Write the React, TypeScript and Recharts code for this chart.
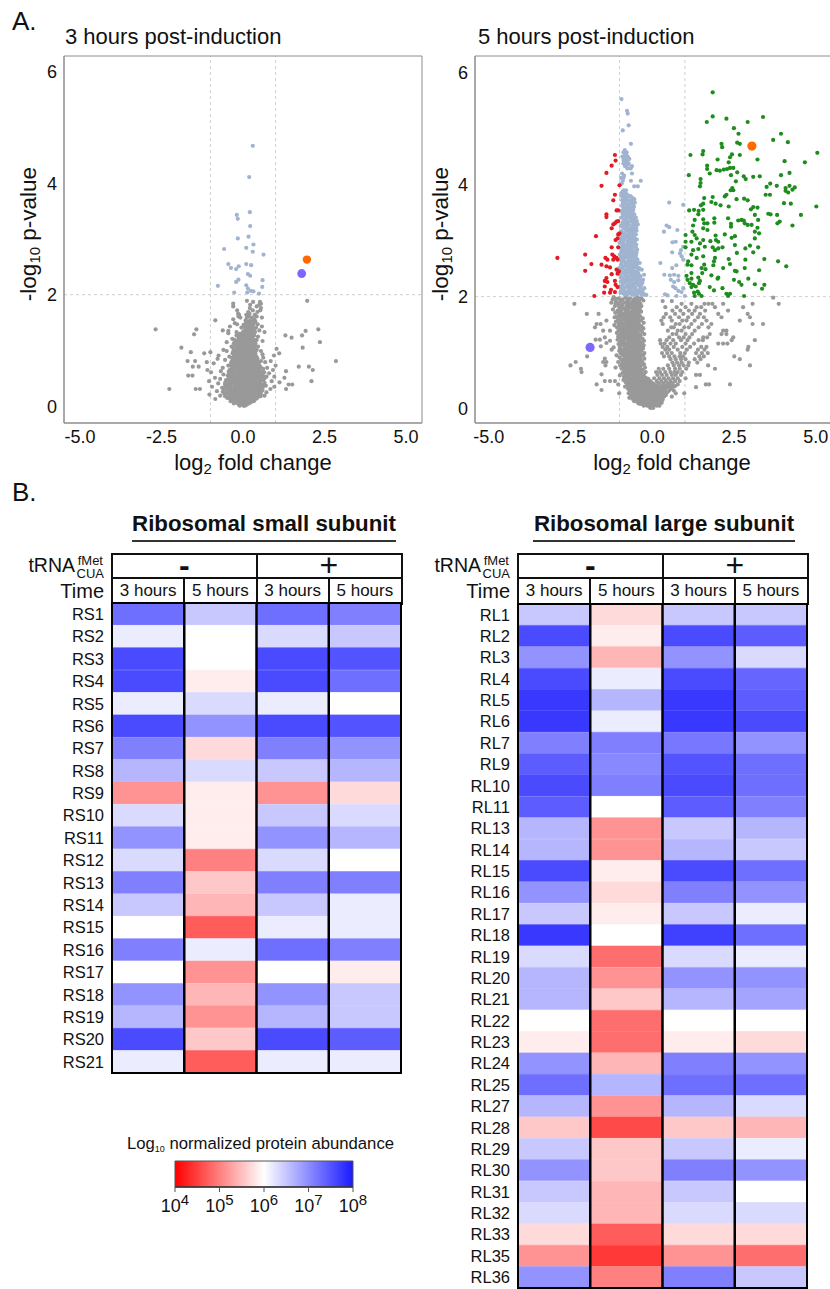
import { BarChart, Bar, Cell, ReferenceLine, Scatter, ScatterChart, XAxis, YAxis } from "recharts";

// rows are [y, x, x, x ...]
type Row = number[];

const gray3hRows: Row[] = [
  [1.89, 1.97, .12], [1.87, .31, .52], [1.84, -.3, .55], [1.82, .22, .5], [1.79, -.3, .42], [1.76, .21, .55], [1.72, -.18, .3, .53], [1.69, .16, .44],
  [1.66, -.15, .2], [1.64, -.12, .1, .36], [1.61, -.14, .18, .42], [1.59, -.08, .12, .28, .58], [1.56, -.3, .35], [1.54, -.85, .08, .22], [1.52, .14, .38, .3],
  [1.49, -.25, .19, .33], [1.47, -.18, .07, .27, .45], [1.45, .13, .3], [1.43, -.4, .06, .24, .58], [1.41, -.05, .17, .4], [1.38, -2.68, -1.43, 2.31, .11, .34],
  [1.36, -.62, .05, .21, .5], [1.35, 1.92, -.45, .28, .15], [1.33, .1, .37, -.2, .66], [1.31, -.45, -.02, .24], [1.29, -1.5, .06, .18, .3], [1.27, 1.81, 1.3, -.2, .12, .34],
  [1.25, -.14, .05, .28, .46], [1.23, 1.49, .16, .1, .22], [1.21, -.33, -.08, .27], [1.19, -.26, .02, .2, .42], [1.17, -.2, .14, .33, .6], [1.15, 2.36, .08, -.5, .24],
  [1.13, -.28, -.1, .18, .38], [1.11, -.16, .05, .3], [1.09, -.22, .11, .36], [1.07, -.35, -.02, .22, .46], [1.05, -1.89, 1.83, -.17, .16], [1.03, -.29, -.04, .29, 1.03],
  [1.01, -.6, .1, .21, .42], [.99, -.5, -.23, .03, .34, .55], [.97, -1.6, -1, .14, -.1, .27], [.95, -1.19, -.32, .08, .38, 1.11], [.93, -.26, -.13, .2, .6], [.91, -.75, -.06, .33, .95],
  [.89, -.42, .01, .24, .41], [.87, -.33, -.2, .13, .62], [.85, -.78, -.07, .3], [.83, -.55, -.27, .17, .38], [.81, 2.85, -1.7, -1.47, -.14, .04, .55, .85], [.79, -1.11, -.36, .1, .26, .68],
  [.77, -.9, -.21, -.03, .4], [.75, -.29, .19, .32], [.73, -.45, -.1, .06, 1], [.71, 1.71, 2.02, -1.54, -1.36, -.22, .25, .46], [.69, -.62, -.34, .12, .37, .74],
  [.67, -.15, .01, .29, .62], [.65, 2.14, -1.09, -.41, -.27, .08, .18, .92], [.63, -.68, -.06, .23, .5, 1.32], [.61, -.98, -.38, .15, .36, .65], [.59, -.31, -.2, .02, .45, .8],
  [.57, -.6, -.13, .09, .27], [.55, -1.68, -1.55, -.47, .2, .39, .55], [.53, -.24, -.05, .33, .72, .96], [.51, 1.27, -.86, -.35, .12, .5], [.49, -.7, -.17, .04, .25, .43],
  [.47, -.52, -.28, .19, .36, .62], [.45, 2.1, -1.04, -.1, .07, .3, .88], [.43, -.42, -.2, .14, .47, 1.12], [.41, -.76, -.33, -.02, .24, .4], [.39, 1.51, 1.4, -.55, -.13, .1, .56],
  [.37, -.25, .18, .34, .7], [.35, -.95, -.45, -.07, .03, .44, .96], [.33, -.64, -.31, .13, .28, .52], [.31, -2.26, -1.45, -1.32, 1.32, -.18, .38, .84], [.29, -.38, -.1, .07, .22, .6],
  [.27, -.8, -.24, .01, .33, .47], [.25, -.5, -.15, .15, .72], [.23, -.58, -.31, -.04, .26, .42], [.21, -1.03, -.2, .09, .36, .54], [.19, -.7, -.41, .03, .19, .66],
  [.17, -.27, -.11, .3, .47], [.15, -.48, -.06, .12, .24], [.13, -.85, -.34, -.17, .38], [.11, -.24, .04, .2, .29], [.09, -.38, -.1, .14, .33], [.07, -.2, -.02, .24],
  [.05, -.28, .08, .18], [.03, -.13, -.05, .12], [.01, -.1, .02, .06],
];
// the solid middle of the cloud
const gray3hCoreRows: Row[] = [
  [1.5, .1, .23], [1.46, .02, .16, .25], [1.4, .08, .22, .28], [1.34, .01, .14, .2, .27], [1.3, -.1, .1, .22, .26], [1.26, -.04, .08, .17, .25], [1.22, -.13, 0, .13, .19, .3],
  [1.18, -.08, .06, .11, .25, .36], [1.14, -.14, -.02, .12, .2, .3], [1.1, -.26, -.1, .02, .09, .18, .25], [1.06, -.12, -.06, .08, .14, .27, .34], [1.02, -.2, -.1, .05, .14, .24, .34],
  [.98, -.3, -.16, -.03, .06, .17, .23, .37], [.94, -.2, -.06, .03, .13, .26, .34], [.9, -.28, -.15, -.02, .09, .18, .28, .37], [.86, -.25, -.12, .01, .08, .21, .34, .44],
  [.82, -.33, -.2, -.02, .09, .22, .29, .44], [.78, -.3, -.14, -.07, .04, .15, .33, .46], [.74, -.38, -.18, -.02, .13, .23, .36, .5], [.7, -.3, -.12, -.02, .06, .18, .3, .42, .54],
  [.66, -.36, -.21, -.08, .04, .14, .25, .36, .48], [.62, -.44, -.28, -.13, .03, .11, .19, .3, .42, .55], [.58, -.42, -.26, -.08, .06, .16, .24, .33, .48, .6],
  [.54, -.38, -.3, -.14, .01, .13, .25, .31, .44, .62], [.5, -.44, -.25, -.1, -.02, .08, .17, .3, .38, .54, .66], [.46, -.45, -.34, -.15, -.05, .03, .13, .25, .42, .55],
  [.42, -.55, -.36, -.26, -.08, .05, .2, .31, .38, .52, .66], [.38, -.48, -.38, -.2, -.03, .07, .16, .27, .42, .49, .62], [.34, -.55, -.41, -.24, -.12, -.02, .09, .2, .35, .48, .6],
  [.3, -.58, -.46, -.27, -.14, -.03, .04, .15, .27, .43, .55], [.26, -.62, -.42, -.33, -.19, -.06, .06, .2, .29, .4, .56], [.22, -.5, -.38, -.24, -.1, 0, .13, .22, .31, .48],
  [.18, -.55, -.34, -.2, -.07, .07, .14, .26, .36, .54], [.14, -.4, -.26, -.12, -.02, .06, .18, .3, .42], [.1, -.3, -.18, -.07, .08, .16, .25], [.06, -.16, -.1, .03, .13],
];

const blue3h = [
  [.3, 4.67], [.19, 4.11], [.21, 3.48], [-.19, 3.43], [-.16, 3.36], [.22, 3.23], [-.16, 3.01], [.17, 3.04], [.32, 2.9],
  [.1, 2.84], [-.58, 2.82], [.3, 2.77], [.63, 2.72], [-.45, 2.55], [-.37, 2.48], [-.21, 2.46], [-.13, 2.51], [.1, 2.55],
  [.25, 2.53], [.15, 2.37], [.22, 2.34], [.6, 2.26], [-.14, 2.27], [-.21, 2.23], [.59, 2.14], [-.77, 2.16], [.1, 2.17],
  [.15, 2.11], [.13, 2.04], [.24, 2.07], [.32, 2.06], [.49, 2.02], [-.27, 2.04],
];
const orange3h = [[1.96, 2.63]];
const purple3h = [[1.8, 2.38]];

const gray5hLeftRows: Row[] = [
  [1.99, -1.18, -.82, -.46], [1.97, -1.02, -.68, -.33], [1.95, -1.21, -.9, -.56], [1.93, -.75, -.4, -.27], [1.91, -1.11, -.96, -.6], [1.89, -1.25, -.84, -.5],
  [1.87, -2.38, -1.04, -.71, -.36], [1.85, -.92, -.58, -.44], [1.83, -1.14, -.79, -.33], [1.81, -1, -.65, -.47], [1.79, -.87, -.52], [1.77, -1.2, -.74, -.38],
  [1.75, -1.06, -.61, -.44], [1.73, -.94, -.8, -.34], [1.71, -1.13, -.68, -.53], [1.69, -2, -1.64, -.9, -.42], [1.67, -1.01, -.76, -.57], [1.65, -.84, -.63, -.37],
  [1.63, -1.15, -.96, -.5], [1.61, -.72, -.43, -.29], [1.59, -1.05, -.86, -.59], [1.57, -1.4, -.78, -.48, -.35], [1.55, -1.11, -.94, -.66], [1.53, -.83, -.55, -.26],
  [1.51, -1.7, -1.58, -1.03, -.72, -.41], [1.49, -1.16, -.91, -.61], [1.47, -.8, -.5, -.33], [1.45, -1.75, -1.08, -.69, -.44], [1.43, -.97, -.58, -.27], [1.41, -.87, -.76, -.38],
  [1.39, -1.5, -1.29, -1.03, -.64, -.5], [1.37, -.92, -.72, -.31], [1.35, -1.08, -.83, -.56], [1.33, -.98, -.67, -.43, -.24], [1.31, -.77, -.52, -.36], [1.29, -1.04, -.88, -.62],
  [1.27, -1.45, -.95, -.7, -.46], [1.25, -.81, -.58, -.3], [1.23, -1.73, -1.6, -1.06, -.9, -.41], [1.21, -1.29, -.74, -.54, -.25], [1.19, -.98, -.65, -.37], [1.17, -1.4, -.85, -.49, -.3],
  [1.15, -1.03, -.78, -.6], [1.13, -.93, -.44, -.26], [1.11, -1.57, -.7, -.55, -.35], [1.09, -1.18, -.99, -.83], [1.07, -.64, -.48, -.28], [1.05, -1.24, -.9, -.76, -.4],
  [1.03, -1.01, -.58, -.33], [1.01, -.86, -.69, -.46], [.99, -.97, -.53, -.24], [.97, -.8, -.63, -.38], [.95, -1.09, -.9, -.48, -.28], [.93, -1.99, -.73, -.57], [.91, -1, -.84, -.41],
  [.89, -1.45, -.66, -.52, -.24], [.87, -.94, -.77, -.35], [.85, -.86, -.6, -.46], [.83, -2.34, -1.5, -1.4, -1.04, -.7, -.3], [.81, -.92, -.54, -.4], [.79, -.8, -.65, -.25],
  [.77, -2.5, -1.43, -.98, -.48, -.34], [.75, -.87, -.72, -.58], [.73, -1.12, -.61, -.44, -.22], [.71, -2.18, -.93, -.78, -.36], [.69, -.68, -.51, -.29], [.67, -.85, -.57, -.41],
  [.65, -2.16, -.74, -.47, -.2], [.63, -.91, -.62, -.33], [.61, -1.55, -.8, -.53, -.26], [.59, -.99, -.69, -.42], [.57, -.86, -.58, -.35], [.55, -.76, -.48, -.2], [.53, -.65, -.39, -.12],
  [.51, -.88, -.55, -.28], [.49, -1.45, -1.29, -1.14, -.72, -.44, -.05], [.47, -.81, -.61, -.34, -.16], [.45, -.5, -.24, -.02], [.43, -1.7, -1.04, -.68, -.39, -.1], [.41, -.77, -.57, -.3],
  [.39, -.83, -.46, -.19, .02], [.37, -.64, -.36, -.07], [.35, -.74, -.52, -.26], [.33, -1.55, -.6, -.42, -.14, .04], [.31, -.69, -.33, -.02], [.29, -.49, -.22, -.09], [.27, -1.01, -.72, -.38, .03],
  [.25, -.57, -.28, -.12], [.23, -.65, -.44, -.18, .01], [.21, -.52, -.34, -.07], [.19, -.7, -.24, -.13], [.17, -.6, -.41, -.03], [.15, -.49, -.3, -.19], [.13, -.55, -.09, .02],
  [.11, -.38, -.25, -.14], [.09, -.42, -.31, -.05], [.07, -.2, -.1, .01], [.05, -.26, -.15, -.03], [.03, -.08, .02], [.01, -.05, .03],
];
// the solid band of the left arm
const gray5hCoreRows: Row[] = [
  [1.96, -1.1, -.77, -.5, -.37], [1.92, -.98, -.72, -.53, -.42], [1.88, -1.12, -.76, -.62, -.4], [1.84, -1.02, -.7, -.52, -.38], [1.8, -.93, -.73, -.58, -.41], [1.76, -1, -.82, -.55, -.44],
  [1.72, -1.03, -.72, -.6, -.45], [1.68, -.96, -.82, -.63, -.48], [1.64, -1.08, -.88, -.7, -.54], [1.6, -.98, -.8, -.62, -.47], [1.56, -1, -.73, -.58, -.42], [1.52, -.92, -.78, -.63, -.46],
  [1.48, -1, -.7, -.55, -.4], [1.44, -.88, -.76, -.62, -.48], [1.4, -1, -.82, -.66, -.54, -.42], [1.36, -.85, -.68, -.6, -.45], [1.32, -.92, -.74, -.58, -.48], [1.28, -1.01, -.8, -.64, -.52, -.38],
  [1.24, -.95, -.7, -.62, -.48], [1.2, -.87, -.66, -.5, -.42], [1.16, -.92, -.72, -.55, -.44], [1.12, -.86, -.62, -.48, -.38], [1.08, -.75, -.6, -.4], [1.04, -.96, -.82, -.64, -.5],
  [1, -.92, -.74, -.56, -.42], [.96, -.88, -.7, -.52, -.34], [.92, -.82, -.64, -.5, -.36], [.88, -.85, -.72, -.58, -.42], [.84, -.78, -.63, -.52, -.36], [.8, -.85, -.72, -.58, -.44],
  [.76, -.82, -.66, -.54, -.42], [.72, -.88, -.7, -.52, -.38], [.68, -.8, -.62, -.46, -.32], [.64, -.82, -.68, -.55, -.42], [.6, -.74, -.6, -.47, -.32], [.56, -.7, -.52, -.38, -.26],
  [.52, -.8, -.6, -.46, -.32, -.2], [.48, -.66, -.5, -.38, -.24, -.1], [.44, -.74, -.58, -.45, -.3, -.16], [.4, -.68, -.5, -.37, -.24, -.08], [.36, -.58, -.46, -.3, -.15, -.02], [.32, -.64, -.5, -.37, -.25, -.08],
  [.28, -.6, -.46, -.33, -.2, -.05], [.24, -.52, -.37, -.24, -.08], [.2, -.6, -.43, -.29, -.16, -.01], [.16, -.53, -.36, -.22, -.08, .05], [.12, -.46, -.3, -.18, -.04], [.08, -.36, -.24, -.13, .04],
];
const gray5hRightRows: Row[] = [
  [1.98, 3.7], [1.92, .32, .6], [1.87, 3.87, 3.07, .9, 1.2, 1.6, 1.72, 1.84, 2.17], [1.81, .4, .75, 1.02, 1.36, 1.5, 1.92, 2.78],
  [1.75, .62, .86, 1.12, 1.3, 1.62, 2.32], [1.69, .42, .7, .95, 1.22, 1.46, 2.02, 2.92], [1.63, .35, .55, .82, 1.1, 1.4, 1.58, 2.12, 2.99],
  [1.57, .28, .6, .92, 1.05, 1.3, 1.66, 2.68], [1.51, .32, .72, .84, 1.2, 1.52, 1.81, 3.07, 3.39], [1.45, .58, .66, .98, 1.12, 1.42, 1.72],
  [1.39, .48, .78, .9, 1.3, 2.17, 2.27], [1.33, .62, .74, 1.02, 1.22, 1.76, 2.27, 2.12], [1.27, .52, .82, .96, 1.14, 1.56, 1.68, 2.48],
  [1.22, .24, .44, .64, .88, 1.08, 1.42, 1.55, 2.43, 3.14], [1.16, .26, .38, .56, .72, 1.02, 1.28, 2.02, 2.17, 2.3], [1.1, .32, .46, .66, .92, 1.16, 1.5, 1.66, 2.94],
  [1.05, .4, .52, .78, 1.06, 1.4, 1.6, 2.92], [.99, .3, .46, .6, .86, 1, 1.34, 1.52, 1.7], [.93, .36, .52, .68, .84, .94, 1.44, 1.58, 2.51],
  [.88, .56, .72, .88, 1.02, 1.3, 1.48, 2.68], [.82, .62, .76, .9, 1.12, 1.38], [.77, .48, .66, .82, .96, 1.1, 1.71, 2.99],
  [.71, .2, .34, .52, .7, .84, 1.04, 1.92], [.65, .12, .24, .4, .56, .68, .78, .92], [.6, .16, .3, .44, .6, .72, .88, 1.34, 1.46],
  [.54, .06, .22, .36, .5, .64, .78, 1.02], [.49, .14, .28, .42, .56, .7, .84], [.45, .02, .2, .34, .5, .62], [.43, .06, .18, .46, .6, .78, 1.64, 1.74, 2.38],
  [.4, .1, .28, .42, .54, .7], [.38, .08, .2, .34, .48, .62, 1.34], [.35, .14, .26, .4, .58], [.32, .1, .18, .28, .38, .52, .66], [.29, .05, .22, .33, .46],
  [.27, .14, .24, .34, .72, .98], [.24, .06, .18, .3, .42], [.21, .1, .2, .36, .6], [.18, .03, .14, .26], [.16, .08, .17, .32], [.13, .05, .22, .28],
  [.1, .02, .11, .2, .29], [.07, .06, .15], [.05, .14, .22],
];

const blue5hRows: Row[] = [
  [5.53, -.94], [5.32, -.77], [5.27, -.75], [5.06, -.72], [4.97, -.9], [4.73, -.65],
  [4.62, -.84], [4.58, -.78, -.88], [4.54, -.8], [4.5, -.91, -.75], [4.46, -.84, -.7], [4.42, -.8], [4.38, -.88, -.72], [4.33, -.83, -.62], [4.29, -.76, -.66],
  [4.2, -.92, -.62], [4.16, -.86], [4.12, -.95, -.88], [4.07, -.9, -.65, -.35], [3.97, -.55, -.44], [3.86, -.93, -.84],
  [3.83, -.78, -.88], [3.8, -.95, -.7], [3.77, -.84, -.62], [3.74, -.9, -.76, -.55], [3.71, -.82, -.67], [3.68, -.87, -.6, -.53], [3.65, -.75, -.69], [3.62, -.92, -.57], [3.59, -.8, -.64],
  [3.56, -.88, -.72], [3.53, -.94, -.79, -.6], [3.5, -.84, -.68], [3.47, -.9, -.75, -.55], [3.44, -.65, -.81], [3.41, -.94, -.71, -.5], [3.38, -.86, -.59], [3.35, -.78, -.66, -.47],
  [3.32, -.91, -.54], [3.29, -.83, -.72, -.44], [3.26, -.96, -.62, -.52], [3.23, -.88, -.75, -.49], [3.2, -.8, -.58], [3.17, -.93, -.68, -.54], [3.14, -.85, -.6], [3.11, -.97, -.76, -.5],
  [3.08, -.89, -.65, -.56], [3.05, -.81, -.71], [3.02, -.95, -.6, -.47], [2.99, -.87, -.75, -.53], [2.96, -1, -.66, -.58], [2.93, -.79, -.92, -.49], [2.9, -.85, -.7, -.55], [2.87, -.97, -.62],
  [2.84, -.77, -.88, -.46], [2.81, -.66, -.53, -.94], [2.78, -.83, -.72], [2.75, -.99, -.6, -.49], [2.72, -.9, -.77, -.55], [2.69, -.68, -.84], [2.66, -.96, -.62, -.45], [2.63, -.74, -.87, -.52],
  [2.6, -.81, -.58, -.38], [2.57, -.95, -.68, -.47], [2.54, -.88, -.76, -.55], [2.51, -1.01, -.62, -.4], [2.48, -.83, -.7, -.32], [2.45, -.93, -.52], [2.42, -.77, -.64, -.43], [2.39, -.98, -.86, -.25],
  [2.36, -.71, -.56, -.36], [2.33, -.91, -.8, -.47], [2.3, -.66, -.6, -.28], [2.27, -.96, -.75, -.41], [2.24, -.85, -.53], [2.21, -.69, -.44, -.33], [2.18, -1, -.78, -.58], [2.15, -.89, -.63, -.24],
  [2.12, -.95, -.72, -.5], [2.09, -.82, -.6, -.38], [2.06, -.9, -.68, -.44, -.28], [2.03, -.76, -.55, -.33, -.18],
];
// the solid part of the left column
const blue5hCoreRows: Row[] = [
  [4.52, -.84, -.8], [4.44, -.88, -.76], [4.36, -.83, -.74], [4.02, -.93], [3.9, -.88, -.8], [3.79, -.86, -.76, -.66], [3.72, -.92, -.73, -.6], [3.66, -.9, -.8, -.63], [3.6, -.85, -.72, -.56],
  [3.55, -.78, -.66, -.58], [3.51, -.92, -.73, -.62], [3.45, -.88, -.74, -.58], [3.39, -.8, -.65, -.55], [3.33, -.87, -.74, -.6], [3.28, -.91, -.78, -.56], [3.22, -.83, -.66, -.54],
  [3.18, -.75, -.62, -.48], [3.12, -.9, -.7, -.56], [3.07, -.95, -.78, -.6], [3.03, -.86, -.68, -.52], [2.97, -.93, -.7, -.62], [2.92, -.84, -.66, -.53], [2.88, -.9, -.76, -.5],
  [2.83, -.82, -.7, -.6], [2.79, -.92, -.6, -.48], [2.74, -.84, -.7, -.56], [2.7, -.95, -.76, -.62, -.5], [2.65, -.88, -.7, -.55], [2.61, -.93, -.76, -.62, -.45], [2.56, -.82, -.6, -.5],
  [2.52, -.9, -.72, -.55, -.46], [2.47, -.96, -.78, -.6, -.44], [2.43, -.88, -.7, -.54], [2.38, -.8, -.62, -.5, -.4], [2.34, -.96, -.72, -.58, -.42], [2.29, -.85, -.7, -.52, -.35],
  [2.25, -.9, -.64, -.47, -.3], [2.2, -.92, -.75, -.58, -.4], [2.16, -.83, -.7, -.52, -.36], [2.11, -.88, -.63, -.42, -.3], [2.07, -.97, -.76, -.55, -.36], [2.04, -.85, -.62, -.47, -.25],
];
const blue5hRight = [
  [.52, 3.68], [.95, 3.64], [.44, 3.27], [.52, 3.24], [.36, 3.16], [.77, 3.19], [.62, 2.97], [.72, 2.98], [.95, 2.89], [.88, 2.83],
  [.85, 2.77], [.61, 2.79], [.9, 2.72], [.95, 2.66], [.25, 2.6], [.74, 2.56], [.61, 2.51], [.37, 2.39], [.54, 2.38], [.67, 2.39],
  [.8, 2.37], [.57, 2.3], [.67, 2.26], [.8, 2.29], [.64, 2.18], [.71, 2.15], [.8, 2.1], [.9, 2.08], [.39, 2.04], [.47, 2.02],
  [.74, 2.01], [1, 2.01], [.95, 2.15],
];
const green5h = [
  [1.85, 5.65], [1.85, 5.22], [1.67, 5.12], [2.27, 5.18], [2.92, 5.12], [3.39, 5.21], [2.5, 5.01], [2.64, 4.91], [3.94, 4.91], [3.7, 4.8],
  [4.15, 4.76], [2.12, 4.73], [2.14, 4.67], [2.6, 4.75], [2.68, 4.73], [5.05, 4.57], [1.56, 4.6], [1.54, 4.54], [1.17, 4.53], [2.44, 4.54],
  [2.38, 4.49], [2.68, 4.53], [2, 4.45], [2.34, 4.4], [3.22, 4.45], [4.05, 4.42], [4.67, 4.4], [1.68, 4.34], [1.68, 4.28], [1.97, 4.26],
  [2.07, 4.25], [2.19, 4.27], [2.29, 4.28], [2.38, 4.3], [2.48, 4.3], [1.76, 4.2], [2.6, 4.22], [1.12, 4.17], [2.41, 4.17], [2.8, 4.15],
  [2.86, 4.1], [3.09, 4.14], [3.29, 4.15], [3.94, 4.17], [4.2, 4.21], [1.48, 4.1], [1.48, 4.03], [2.56, 4.06], [1.46, 3.97], [3.61, 4.02],
  [3.5, 3.96], [3.81, 3.98], [4.2, 3.98], [4.08, 3.94], [4.36, 3.95], [4.29, 3.91], [4.08, 3.89], [2.45, 3.94], [2.4, 3.9], [2.48, 3.9],
  [2.27, 3.82], [2.22, 3.79], [3.47, 3.82], [3.6, 3.82], [4.16, 3.86], [1.85, 3.78], [1.59, 3.76], [2.58, 3.74], [2.81, 3.75], [2.92, 3.72],
  [1.81, 3.69], [1.94, 3.66], [1.56, 3.66], [1.49, 3.63], [2.09, 3.63], [2.34, 3.61], [4.03, 3.67], [4.24, 3.66], [5.02, 3.61], [3.09, 3.6],
  [3.22, 3.59], [3.02, 3.56], [1.13, 3.54], [1.28, 3.55], [1.42, 3.53], [1.56, 3.55], [1.41, 3.47], [3.14, 3.46], [3.55, 3.48], [3.62, 3.47],
  [3.82, 3.46], [4.55, 3.46], [1.3, 3.37], [1.56, 3.38], [1.9, 3.4], [2.32, 3.4], [2.63, 3.36], [2.73, 3.37], [2.8, 3.36], [3.24, 3.37],
  [3.9, 3.34], [3.83, 3.31], [1.59, 3.31], [1.69, 3.31], [1.9, 3.32], [2.41, 3.3], [2.83, 3.31], [2.92, 3.28], [3.04, 3.28], [4.29, 3.27],
  [1.25, 3.27], [1.56, 3.22], [1.69, 3.19], [2.41, 3.25], [3.22, 3.23], [1.23, 3.16], [3.14, 3.16], [3.27, 3.13], [1.02, 3.1], [1.3, 3.1],
  [1.94, 3.09], [2.22, 3.11], [2.53, 3.08], [2.43, 3.05], [1.36, 3.04], [1.56, 3.01], [3.14, 3.04], [1.02, 2.98], [1.2, 2.98], [1.78, 2.99],
  [1.95, 3.01], [2.02, 2.98], [1.46, 2.95], [2.53, 2.92], [2.99, 2.91], [1.61, 2.89], [1.85, 2.88], [2.02, 2.86], [2.15, 2.88], [2.85, 2.86],
  [3.24, 2.88], [1.02, 2.88], [1.25, 2.83], [1.41, 2.85], [1.92, 2.83], [3.09, 2.79], [2.59, 2.78], [1.2, 2.75], [1.56, 2.72], [1.1, 2.63],
  [1.36, 2.69], [1.92, 2.69], [1.89, 2.63], [2.34, 2.67], [3.43, 2.67], [2.85, 2.66], [1.08, 2.57], [1.2, 2.56], [1.59, 2.57], [1.87, 2.56],
  [2.38, 2.58], [3.85, 2.63], [4.1, 2.54], [1.51, 2.51], [1.63, 2.49], [2.17, 2.51], [2.83, 2.51], [3.27, 2.47], [2.53, 2.46], [2.58, 2.45],
  [1.2, 2.42], [1.53, 2.42], [1.81, 2.38], [1.05, 2.37], [2.02, 2.34], [1.08, 2.3], [1.2, 2.32], [1.41, 2.34], [1.46, 2.28], [2, 2.32],
  [2.5, 2.3], [2.94, 2.32], [1.15, 2.24], [1.25, 2.21], [1.43, 2.24], [2.66, 2.26], [2.73, 2.21], [3.14, 2.22], [3.43, 2.21], [1.2, 2.17],
  [1.33, 2.18], [1.76, 2.17], [2.15, 2.15], [3.36, 2.14], [1.89, 2.11], [1.39, 2.09], [1.28, 2.07], [1.43, 2.05], [1.3, 2.01], [1.51, 2.01],
  [2.27, 2.05], [2.38, 2.05], [2.32, 2.01], [2.81, 2.01],
];
const red5h = [
  [-1.14, 4.53], [-1.12, 4.43], [-1.24, 4.34], [-1.4, 4.21], [-1.55, 3.98], [-1, 3.99], [-1.14, 3.82], [-1.19, 3.72], [-1.09, 3.54], [-1.04, 3.54],
  [-1.4, 3.47], [-1.4, 3.42], [-1.09, 3.34], [-1.14, 3.31], [-1.19, 3.29], [-1.04, 3.35], [-1.24, 3.22], [-1.04, 3.11], [-1, 3.13], [-1.72, 3.08],
  [-1.06, 3.04], [-1.12, 3.01], [-1.24, 2.88], [-1.04, 2.88], [-2.9, 2.69], [-2.05, 2.75], [-1.86, 2.58], [-2.05, 2.46], [-1.43, 2.69], [-1.37, 2.66],
  [-1.22, 2.75], [-1.16, 2.72], [-1.09, 2.69], [-1.19, 2.66], [-1.06, 2.66], [-1.55, 2.57], [-1.4, 2.54], [-1.29, 2.52], [-1.09, 2.48], [-1.02, 2.45],
  [-1.06, 2.41], [-1.24, 2.4], [-1.4, 2.33], [-1.45, 2.28], [-1.37, 2.26], [-1.14, 2.28], [-1.12, 2.21], [-1.45, 2.18], [-1.06, 2.17], [-1.47, 2.07],
  [-1.77, 2.01], [-1.29, 2.07], [-1.26, 2.12], [-1.14, 2.08],
];
const orange5h = [[3.05, 4.69]];
const purple5h = [[-1.9, 1.09]];

const xTicks = [-5, -2.5, 0, 2.5, 5];
const yTicks = [0, 2, 4, 6];

const smallNames = ["RS1", "RS2", "RS3", "RS4", "RS5", "RS6", "RS7", "RS8", "RS9", "RS10", "RS11", "RS12", "RS13", "RS14", "RS15", "RS16", "RS17", "RS18", "RS19", "RS20", "RS21"];
const small3hMinus = [7.14, 6.15, 7.42, 7.42, 6.15, 7.42, 7, 6.57, 5.15, 6.29, 6.85, 6.29, 7, 6.43, 6, 7, 6, 6.85, 6.57, 7.42, 6.15];
const small5hMinus = [6.43, 6, 6, 5.85, 6.29, 6.85, 5.71, 6.29, 5.85, 5.85, 5.85, 5, 5.57, 5.43, 4.72, 6.15, 5.15, 5.43, 5.15, 5.57, 4.72];
const small3hPlus = [7.14, 6.29, 7.42, 7.42, 6.15, 7.42, 7, 6.43, 5.15, 6.43, 6.85, 6.29, 7, 6.43, 6.15, 7.14, 6, 6.85, 6.57, 7.42, 6.15];
const small5hPlus = [7, 6.43, 7.35, 7.14, 6, 7.35, 6.85, 6.57, 5.71, 6.29, 6.57, 6, 7, 6.15, 6.15, 7, 5.85, 6.43, 6.43, 7.28, 6.15];

const largeNames = ["RL1", "RL2", "RL3", "RL4", "RL5", "RL6", "RL7", "RL9", "RL10", "RL11", "RL13", "RL14", "RL15", "RL16", "RL17", "RL18", "RL19", "RL20", "RL21", "RL22", "RL23", "RL24", "RL25", "RL27", "RL28", "RL29", "RL30", "RL31", "RL32", "RL33", "RL35", "RL36"];
const large3hMinus = [6.43, 7.42, 6.85, 7.42, 7.56, 7.56, 7, 7.28, 7.42, 7.28, 6.57, 6.57, 7.42, 6.85, 6.43, 7.56, 6.29, 6.57, 6.57, 6, 5.85, 6.85, 7.14, 6.57, 5.57, 6.43, 6.85, 6.43, 6.29, 5.71, 5.15, 6.85];
const large5hMinus = [5.71, 5.85, 5.43, 6.15, 6.57, 6.15, 7, 6.93, 7, 6, 5.15, 5.15, 5.85, 5.71, 5.85, 6, 4.86, 5.15, 5.57, 4.86, 4.86, 5.43, 6.57, 5.15, 4.58, 5.57, 5.57, 5.43, 5.43, 4.72, 4.44, 5];
const large3hPlus = [6.43, 7.42, 6.85, 7.42, 7.56, 7.56, 7.07, 7.35, 7.42, 7.28, 6.43, 6.57, 7.42, 7, 6.43, 7.5, 6.29, 6.85, 6.57, 6, 5.85, 7, 7.14, 6.57, 5.57, 6.43, 7, 6.43, 6.29, 5.71, 5.15, 7];
const large5hPlus = [6.43, 7.28, 6.29, 7.2, 7.28, 7.42, 6.85, 7.14, 7.14, 7, 6.57, 6.43, 7.14, 6.85, 6.15, 7.14, 6.15, 6.85, 6.71, 6, 5.71, 6.85, 7.14, 6.29, 5.43, 6.15, 6.85, 6, 6.29, 5.71, 4.86, 6.43];

const colorbarRange = [4, 8];
const colorbarTicks = [4, 5, 6, 7, 8];

const FONT = "'Liberation Sans', Arial, sans-serif";
const GRAY = "#999999";
const BLUE = "#a0b4d0";
const GREEN = "#1e8c1e";
const RED = "#e01b24";
const ORANGE = "#ff6a00";
const PURPLE = "#7b68ff";

const pairs = (list: number[][]) => list.map(([x, y]) => ({ x, y }));
const fromRows = (rows: Row[]) => rows.flatMap(([y, ...xs]) => xs.map((x) => ({ x, y })));

// log10 abundance -> red / white / blue
function heatColor(v: number) {
  const t = Math.max(-1, Math.min(1, (v - 6) / 2));
  const c = Math.round(255 * (1 - Math.abs(t)));
  return t >= 0 ? `rgb(${c},${c},255)` : `rgb(255,${c},${c})`;
}

const dot = (r: number, fill: string) => (p: any) => <circle cx={p.cx} cy={p.cy} r={r} fill={fill} />;

function Volcano({ left, xDomain, yDomain, yWidth, rightMargin, series }: any) {
  const frame = "#8c8c8c";
  return (
    <div style={{ position: "absolute", left, top: 40 }}>
      <ScatterChart width={430} height={420} margin={{ top: 16, right: rightMargin, bottom: 7, left: 0 }}>
        <XAxis
          type="number" dataKey="x" domain={xDomain} ticks={xTicks} allowDataOverflow interval={0} height={30}
          tickFormatter={(v) => Number(v).toFixed(1)} tickLine={false} tickSize={0} tickMargin={7}
          axisLine={{ stroke: frame, strokeWidth: 1.5 }} tick={{ fontSize: 18, fill: "#111" }}
        />
        <YAxis
          type="number" dataKey="y" domain={yDomain} ticks={yTicks} allowDataOverflow interval={0} width={yWidth}
          tickLine={false} tickSize={0} tickMargin={7}
          axisLine={{ stroke: frame, strokeWidth: 1.5 }} tick={{ fontSize: 18, fill: "#111" }}
        />
        <ReferenceLine x={-1} stroke="#cfcfcf" strokeDasharray="3 3" />
        <ReferenceLine x={1} stroke="#cfcfcf" strokeDasharray="3 3" />
        <ReferenceLine y={2} stroke="#cfcfcf" strokeDasharray="3 3" />
        <ReferenceLine y={yDomain[1]} stroke={frame} />
        <ReferenceLine x={xDomain[1]} stroke={frame} />
        {series.map((s: any, i: number) => (
          <Scatter key={i} data={s.data} isAnimationActive={false} shape={dot(s.r, s.color)} />
        ))}
      </ScatterChart>
    </div>
  );
}

function Abs({ x, y, style, children }: any) {
  return <div style={{ position: "absolute", left: x, top: y, whiteSpace: "nowrap", lineHeight: 1, ...style }}>{children}</div>;
}

function Heatmap({ names, columns, x0, x1, bodyTop, bodyBottom, title, titleCenter, ruleLeft, ruleRight }: any) {
  const rows = names.map((name: string) => ({ name, a: 1, b: 1, c: 1, d: 1 }));
  const w = (x1 - x0) / 4;
  const keys = ["a", "b", "c", "d"];
  const cellStyle = (cx: number, wd: number, top: number, h: number, size: number) => ({
    left: cx, top, width: wd, height: h, display: "flex", alignItems: "center", justifyContent: "center", fontSize: size,
    position: "absolute" as const, lineHeight: 1,
  });
  return (
    <>
      <Abs x={titleCenter} y={513} style={{ transform: "translateX(-50%)", fontSize: 22.3, fontWeight: "bold" }}>{title}</Abs>
      <div style={{ position: "absolute", left: ruleLeft, width: ruleRight - ruleLeft, top: 540, height: 2, background: "#333" }} />
      {/* header boxes */}
      <div style={{ position: "absolute", left: x0 - 1.5, top: 553, width: x1 - x0 - 1, height: 48, border: "2px solid #111" }} />
      <div style={{ position: "absolute", left: x0, top: 577, width: x1 - x0, height: 2, background: "#111" }} />
      <div style={{ position: "absolute", left: x0 + 2 * w - 1, top: 553, width: 2, height: 50, background: "#111" }} />
      <div style={{ position: "absolute", left: x0 + w - 1, top: 578, width: 2, height: 25, background: "#111" }} />
      <div style={{ position: "absolute", left: x0 + 3 * w - 1, top: 578, width: 2, height: 25, background: "#111" }} />
      <div style={{ ...cellStyle(x0, 2 * w, 553, 24, 32), fontWeight: "bold" }}>-</div>
      <div style={{ ...cellStyle(x0 + 2 * w, 2 * w, 553, 24, 32) }}>+</div>
      {[0, 1, 2, 3].map((i) => (
        <div key={i} style={cellStyle(x0 + i * w, w, 579, 23, 17)}>{i % 2 === 0 ? "3 hours" : "5 hours"}</div>
      ))}
      <Abs x={x0 - 8} y={581} style={{ fontSize: 20, transform: "translateX(-100%)" }}>Time</Abs>
      <Abs x={x0 - 37} y={556} style={{ fontSize: 19.5, transform: "translateX(-100%)" }}>tRNA</Abs>
      <Abs x={x0 - 9} y={554} style={{ fontSize: 13, transform: "translateX(-100%)" }}>fMet</Abs>
      <Abs x={x0 - 8} y={567} style={{ fontSize: 13, transform: "translateX(-100%)" }}>CUA</Abs>
      <div style={{ position: "absolute", left: 0, top: bodyTop }}>
        <BarChart
          layout="vertical" width={x1 + 2} height={bodyBottom - bodyTop} data={rows}
          margin={{ top: 0, right: 2, bottom: 0, left: 0 }} barCategoryGap={0}
        >
          <XAxis type="number" domain={[0, 4]} hide />
          <YAxis
            type="category" dataKey="name" width={x0} interval={0} axisLine={false} tickLine={false}
            tickSize={0} tickMargin={8} tick={{ fontSize: 16.5, fill: "#111" }}
          />
          {keys.map((k, j) => (
            <Bar key={k} dataKey={k} stackId="s" isAnimationActive={false}>
              {columns[j].map((v: number, i: number) => <Cell key={i} fill={heatColor(v)} stroke={heatColor(v)} strokeWidth={0.6} />)}
            </Bar>
          ))}
          {[1, 2, 3].map((v) => <ReferenceLine key={v} x={v} stroke="#000" strokeWidth={2.5} />)}
        </BarChart>
      </div>
      <div style={{ position: "absolute", left: x0 - 1.5, top: bodyTop - 1.5, width: x1 - x0 - 2, height: bodyBottom - bodyTop - 2, border: "2.5px solid #000", pointerEvents: "none" }} />
    </>
  );
}

function PowerTick({ x, y, payload }: any) {
  return (
    <text x={x} y={y + 18} textAnchor="middle" fontSize={18} fill="#111">
      10<tspan dy={-7} fontSize={15}>{payload.value}</tspan>
    </text>
  );
}

function Colorbar() {
  const data = [{ name: "scale", range: colorbarRange }];
  return (
    <div style={{ position: "absolute", left: 145, top: 1160 }}>
      <BarChart layout="vertical" width={238} height={64} data={data} margin={{ top: 1, right: 30, bottom: 0, left: 30 }} barCategoryGap={0}>
        <defs>
          <linearGradient id="abundance" x1="0" x2="1" y1="0" y2="0">
            <stop offset="0" stopColor="#ff0000" />
            <stop offset="0.5" stopColor="#ffffff" />
            <stop offset="1" stopColor="#1a1aff" />
          </linearGradient>
        </defs>
        <XAxis
          type="number" domain={colorbarRange} ticks={colorbarTicks} interval={0} height={37} tickSize={5} tickMargin={2}
          axisLine={{ stroke: "#333", strokeWidth: 1.5 }} tickLine={{ stroke: "#555" }} tick={<PowerTick />}
        />
        <YAxis type="category" dataKey="name" hide />
        <Bar dataKey="range" fill="url(#abundance)" stroke="#555" isAnimationActive={false} />
      </BarChart>
    </div>
  );
}

export default function App() {
  const s3 = [
    { data: [...fromRows(gray3hRows), ...fromRows(gray3hCoreRows)], r: 2.1, color: GRAY },
    { data: pairs(blue3h), r: 2.1, color: BLUE },
    { data: pairs(orange3h), r: 4.2, color: ORANGE },
    { data: pairs(purple3h), r: 4.4, color: PURPLE },
  ];
  const s5 = [
    { data: [...fromRows(gray5hLeftRows), ...fromRows(gray5hCoreRows), ...fromRows(gray5hRightRows)], r: 2.1, color: GRAY },
    { data: [...fromRows(blue5hRows), ...fromRows(blue5hCoreRows), ...pairs(blue5hRight)], r: 2.1, color: BLUE },
    { data: pairs(green5h), r: 2.1, color: GREEN },
    { data: pairs(red5h), r: 2.1, color: RED },
    { data: pairs(orange5h), r: 4.6, color: ORANGE },
    { data: pairs(purple5h), r: 4.6, color: PURPLE },
  ];
  const sub = { fontSize: 15, verticalAlign: -4, lineHeight: 0 };
  return (
    <div style={{ position: "fixed", left: 0, top: 0, width: 830, height: 1289, overflow: "hidden", background: "#fff", fontFamily: FONT, color: "#111" }}>
      <Abs x={12} y={8} style={{ fontSize: 26 }}>A.</Abs>
      <Abs x={12} y={479} style={{ fontSize: 26 }}>B.</Abs>
      <Abs x={65} y={26} style={{ fontSize: 22 }}>3 hours post-induction</Abs>
      <Abs x={478} y={26} style={{ fontSize: 22 }}>5 hours post-induction</Abs>

      <Volcano left={0} xDomain={[-5.49, 5.49]} yDomain={[-0.3, 6.28]} yWidth={64} rightMargin={8} series={s3} />
      <Volcano left={410} xDomain={[-5.42, 5.53]} yDomain={[-0.26, 6.3]} yWidth={65} rightMargin={7} series={s5} />

      <Abs x={253} y={452} style={{ fontSize: 22, transform: "translateX(-50%)" }}>log<sub style={sub}>2</sub> fold change</Abs>
      <Abs x={672} y={452} style={{ fontSize: 22, transform: "translateX(-50%)" }}>log<sub style={sub}>2</sub> fold change</Abs>
      <Abs x={29} y={234} style={{ fontSize: 22.5, transform: "translate(-50%,-50%) rotate(-90deg)" }}>-log<sub style={sub}>10</sub> p-value</Abs>
      <Abs x={441} y={234} style={{ fontSize: 22.5, transform: "translate(-50%,-50%) rotate(-90deg)" }}>-log<sub style={sub}>10</sub> p-value</Abs>

      <Heatmap
        names={smallNames} columns={[small3hMinus, small5hMinus, small3hPlus, small5hPlus]}
        x0={112} x1={401} bodyTop={603} bodyBottom={1073}
        title="Ribosomal small subunit" titleCenter={264} ruleLeft={132} ruleRight={396}
      />
      <Heatmap
        names={largeNames} columns={[large3hMinus, large5hMinus, large3hPlus, large5hPlus]}
        x0={518} x1={807} bodyTop={604} bodyBottom={1288}
        title="Ribosomal large subunit" titleCenter={664} ruleLeft={533} ruleRight={795}
      />

      <Abs x={127} y={1136} style={{ fontSize: 16.7 }}>Log<sub style={{ fontSize: 9, verticalAlign: -3, lineHeight: 0 }}>10</sub> normalized protein abundance</Abs>
      <Colorbar />
    </div>
  );
}
